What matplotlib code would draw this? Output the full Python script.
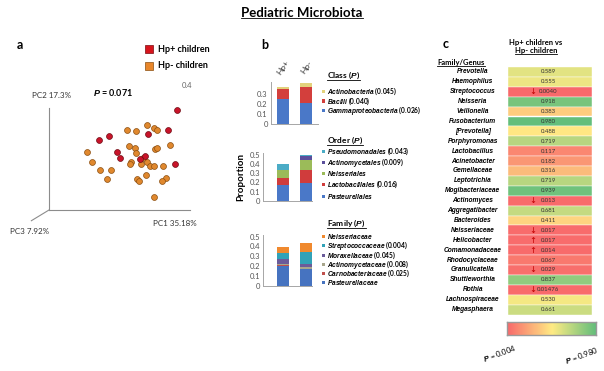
import matplotlib
matplotlib.use("Agg")
import matplotlib.pyplot as plt
import numpy as np
from matplotlib.colors import LinearSegmentedColormap, TwoSlopeNorm
from matplotlib.patches import Rectangle
from matplotlib.lines import Line2D

plt.rcParams["font.family"] = ["Lato", "DejaVu Sans"]
plt.rcParams["mathtext.fontset"] = "custom"
plt.rcParams["mathtext.it"] = "Liberation Sans:italic:bold"
plt.rcParams["mathtext.rm"] = "Lato:bold"
plt.rcParams["mathtext.bf"] = "Lato:bold"

# ---- panel a: PCoA scores (PC1, PC2) ----
pc1_pos = [0.905, 0.846, 0.704, 0.355, 0.424, 0.479, 0.507, 0.680, 0.645, 0.893]
pc2_pos = [0.984, 0.780, 0.744, 0.689, 0.721, 0.567, 0.508, 0.531, 0.498, 0.449]
pc1_neg = [0.744, 0.763, 0.555, 0.614, 0.692, 0.858, 0.566, 0.611, 0.751, 0.768,
           0.270, 0.616, 0.664, 0.581, 0.573, 0.308, 0.692, 0.656, 0.716, 0.746,
           0.810, 0.360, 0.438, 0.687, 0.626, 0.635, 0.827, 0.799, 0.408, 0.746]
pc2_neg = [0.803, 0.780, 0.787, 0.770, 0.836, 0.639, 0.623, 0.607, 0.600, 0.607,
           0.564, 0.557, 0.508, 0.475, 0.452, 0.466, 0.466, 0.452, 0.433, 0.433,
           0.433, 0.393, 0.393, 0.344, 0.302, 0.285, 0.318, 0.289, 0.302, 0.131]

# ---- panel b: stacked proportions (bottom -> top) ----
groups = ["Hp+", "Hp-"]
class_names = ["Gammaproteobacteria", "Bacilli", "Actinobacteria"]
class_p = ["0.026", "0.040", "0.045"]
class_pos = [0.253, 0.097, 0.020]
class_neg = [0.216, 0.160, 0.040]

order_names = ["Pasteurellales", "Lactobacillales", "Neisseriales",
               "Actinomycetales", "Pseudomonadales"]
order_p = [None, "0.016", None, "0.009", "0.043"]
order_pos = [0.172, 0.080, 0.082, 0.004, 0.061]
order_neg = [0.190, 0.143, 0.108, 0.047, 0.008]

family_names = ["Pasteurellaceae", "Carnobacteriaceae", "Actinomycetaceae",
                "Moraxellaceae", "Streptococcaceae", "Neisseriaceae"]
family_p = [None, "0.025", "0.008", "0.045", "0.004", None]
family_pos = [0.207, 0.008, 0.005, 0.050, 0.066, 0.054]
family_neg = [0.167, 0.005, 0.023, 0.027, 0.117, 0.100]

class_colors = ["#4a78c8", "#d33f3c", "#e3d27c"]
order_colors = ["#4a78c8", "#d03c3c", "#9bbb59", "#5b4f9c", "#4bacc6"]
family_colors = ["#4673c0", "#c0504d", "#a8a68c", "#6b5b9a", "#31a2b8", "#f0892e"]

# ---- panel c: p values Hp+ vs Hp- ----
genus = ["Prevotella", "Haemophilus", "Streptococcus", "Neisseria", "Veillonella",
         "Fusobacterium", "[Prevotella]", "Porphyromonas", "Lactobacillus",
         "Acinetobacter", "Gemellaceae", "Leptotrichia", "Mogibacteriaceae",
         "Actinomyces", "Aggregatibacter", "Bacteroides", "Neisseriaceae",
         "Helicobacter", "Comamonadaceae", "Rhodocyclaceae", "Granulicatella",
         "Shuttleworthia", "Rothia", "Lachnospiraceae", "Megasphaera"]
p_text = ["0.589", "0.555", "0.0040", "0.918", "0.383", "0.980", "0.488", "0.719",
          "0.117", "0.182", "0.316", "0.719", "0.939", "0.013", "0.681", "0.411",
          "0.017", "0.017", "0.014", "0.067", "0.029", "0.837", "0.01476", "0.530",
          "0.661"]
direction = ["", "", "down", "", "", "", "", "", "", "", "", "", "", "down", "",
             "", "down", "up", "up", "", "down", "", "down", "", ""]
p_val = [float(s) for s in p_text]

W, H = 604, 371
fig = plt.figure(figsize=(W / 100, H / 100), dpi=100)


def fx(x):
    return x / W


def fy(y):
    return 1 - y / H


def px_axes(left, top, right, bottom):
    return fig.add_axes([fx(left), fy(bottom), (right - left) / W, (bottom - top) / H])


underlined = []

t = fig.text(fx(302), fy(13), "Pediatric Microbiota", ha="center", va="center",
             fontsize=9.5, weight="bold")
underlined.append(t)

# ---------------- panel a ----------------
fig.text(fx(20), fy(45), "a", ha="center", va="center", fontsize=9, weight="bold")
x0, x1, y0, y1 = 49, 190, 210, 108
sx, sy = x1 - x0, y0 - y1
xl, yl = (-0.32, 1.2), (-0.3, 1.35)
ax_a = px_axes(x0 + xl[0] * sx, y0 - yl[1] * sy, x0 + xl[1] * sx, y0 - yl[0] * sy)
ax_a.set_xlim(*xl)
ax_a.set_ylim(*yl)
ax_a.axis("off")
ax_a.plot([0, 1], [0, 0], color="#8c8c8c", lw=0.8)
ax_a.plot([0, 0], [0, 1], color="#8c8c8c", lw=0.8)
ax_a.plot([0, -0.125], [0, -0.105], color="#8c8c8c", lw=0.8)
ax_a.scatter(pc1_neg, pc2_neg, s=18, c="#e0882e", edgecolors="#8a4e10", linewidths=0.5, zorder=3)
ax_a.scatter(pc1_pos, pc2_pos, s=18, c="#c8142a", edgecolors="#6e0a12", linewidths=0.5, zorder=4)
ax_a.text(-0.12, 1.127, "PC2 17.3%", fontsize=5.8, va="center", color="#333333")
ax_a.text(0.74, -0.13, "PC1 35.18%", fontsize=5.8, va="center", color="#333333")
ax_a.text(-0.28, -0.21, "PC3 7.92%", fontsize=5.8, va="center", color="#333333")
ax_a.text(0.31, 1.15, r"$\mathit{P}$ = 0.071", fontsize=6.5, va="center", weight="bold")
ax_a.text(0.98, 1.22, "0.4", fontsize=5.5, ha="center", va="center", color="#666666")

for yy, col, ec, lab in [(49, "#d7141c", "#7a0a10", "Hp+ children"),
                         (66, "#e8862a", "#8a4f10", "Hp- children")]:
    fig.add_artist(Rectangle((fx(145), fy(yy + 4)), 8 / W, 8 / H, transform=fig.transFigure,
                             facecolor=col, edgecolor=ec, lw=0.5))
    fig.text(fx(158), fy(yy), lab, fontsize=6.5, weight="bold", va="center")

# ---------------- panel b ----------------
fig.text(fx(265), fy(45), "b", ha="center", va="center", fontsize=9, weight="bold")
bar_c0, bar_c1, bar_w = 283, 306, 11.5
unit = bar_c1 - bar_c0


def stacked(left, top, right, bottom, ymax, pos, neg, colors, ticks):
    ax = px_axes(left, top, right, bottom)
    ax.set_xlim(-(bar_c0 - left) / unit, (right - bar_c0) / unit)
    ax.set_ylim(0, ymax)
    base = np.zeros(2)
    for a, b, c in zip(pos, neg, colors):
        vals = np.array([a, b])
        ax.bar([0, 1], vals, bottom=base, width=bar_w / unit, color=c, linewidth=0)
        base += vals
    for s in ["top", "right"]:
        ax.spines[s].set_visible(False)
    for s in ["left", "bottom"]:
        ax.spines[s].set_color("#a6a6a6")
        ax.spines[s].set_linewidth(0.7)
    ax.set_xticks([])
    ax.set_yticks(ticks)
    ax.set_yticklabels(["0" if v == 0 else f"{v:.1f}" for v in ticks])
    ax.tick_params(axis="y", length=0, labelsize=5.5, labelcolor="#555555", pad=2)
    return ax


stacked(270.5, 124.3 - 0.42 * 100, 318, 124.3, 0.42, class_pos, class_neg, class_colors,
        [0, 0.1, 0.2, 0.3])
stacked(263.3, 201 - 0.52 * 93, 312, 201, 0.52, order_pos, order_neg, order_colors,
        [0, 0.1, 0.2, 0.3, 0.4, 0.5])
stacked(263.3, 286 - 0.52 * 99, 312, 286, 0.52, family_pos, family_neg, family_colors,
        [0, 0.1, 0.2, 0.3, 0.4, 0.5])

for xc, g in zip([bar_c0, bar_c1], groups):
    fig.text(fx(xc), fy(67), g, fontsize=6, rotation=55, ha="center", va="center",
             color="#333333")
fig.text(fx(241), fy(177), "Proportion", fontsize=7, weight="bold", rotation=90,
         ha="center", va="center")


def legend_block(title, ytitle, names, pvals, colors, ylist):
    t = fig.text(fx(327), fy(ytitle), title, fontsize=6, weight="bold", va="center")
    underlined.append(t)
    for n, p, c, yy in zip(names, pvals, colors, ylist):
        fig.add_artist(Rectangle((fx(321.5), fy(yy + 1.5)), 3 / W, 3 / H,
                                 transform=fig.transFigure, facecolor=c, lw=0))
        lab = r"$\mathit{" + n + "}$" + (f" ({p})" if p else "")
        fig.text(fx(327), fy(yy), lab, fontsize=4.8, weight="bold", va="center")


legend_block(r"Class ($\mathit{P}$)", 75, class_names, class_p, class_colors,
             [110.5, 101, 91.5])
legend_block(r"Order ($\mathit{P}$)", 140, order_names, order_p, order_colors,
             [196.7, 184.3, 173.3, 162.7, 151])
legend_block(r"Family ($\mathit{P}$)", 223.3, family_names, family_p, family_colors,
             [282.5, 273.3, 264.2, 255, 245.8, 236.6])

# ---------------- panel c ----------------
fig.text(fx(446), fy(44), "c", ha="center", va="center", fontsize=9, weight="bold")
fig.text(fx(536), fy(42.7), "Hp+ children vs", fontsize=5.5, weight="bold",
         ha="center", va="center")
t = fig.text(fx(536), fy(51), "Hp- children", fontsize=5.5, weight="bold",
             ha="center", va="center")
underlined.append(t)
t = fig.text(fx(461), fy(63), "Family/Genus", fontsize=5.5, weight="bold",
             ha="center", va="center")
underlined.append(t)

cmap = LinearSegmentedColormap.from_list("ryg", ["#f8696b", "#ffeb84", "#63be7b"])
norm = TwoSlopeNorm(vmin=0.004, vcenter=0.5, vmax=0.98)

n = len(genus)
ax_c = px_axes(508, 67, 592, 314.5)
ax_c.barh(np.arange(n), 1, height=1, left=0, color=cmap(norm(p_val)),
          edgecolor="white", linewidth=0.3)
ax_c.set_xlim(0, 1)
ax_c.set_ylim(n - 0.5, -0.5)
ax_c.axis("off")
for i, (g, s, d) in enumerate(zip(genus, p_text, direction)):
    ax_c.text(-0.42, i, g, fontsize=4.8, weight="bold", style="italic", ha="center",
              va="center", clip_on=False, family="Liberation Sans")
    ax_c.text(0.48, i, s, fontsize=4.3, ha="center", va="center", color="#333333")
    if d:
        ax_c.text(0.3, i, "\u2193" if d == "down" else "\u2191", fontsize=6,
                  ha="center", va="center", color="#c00000", family="DejaVu Sans")

ax_cb = px_axes(507, 321.7, 596, 335)
grad = np.linspace(0.004, 0.98, 256)[None, :]
ax_cb.imshow(grad, cmap=cmap, norm=norm, aspect="auto")
ax_cb.set_xticks([])
ax_cb.set_yticks([])
for s in ax_cb.spines.values():
    s.set_color("#9a9a9a")
    s.set_linewidth(1.0)
fig.text(fx(500), fy(353), r"$\mathit{P}$ = 0.004", fontsize=5.5, rotation=20,
         ha="center", va="center")
fig.text(fx(582), fy(355), r"$\mathit{P}$ = 0.980", fontsize=5.5, rotation=20,
         ha="center", va="center")

# underline headings
fig.canvas.draw()
renderer = fig.canvas.get_renderer()
for t in underlined:
    bb = t.get_window_extent(renderer)
    fig.add_artist(Line2D([bb.x0 / W, bb.x1 / W], [(bb.y0 + 1) / H] * 2,
                          transform=fig.transFigure, color="black", lw=0.6))

plt.savefig("out.png", dpi=100)
plt.close()
